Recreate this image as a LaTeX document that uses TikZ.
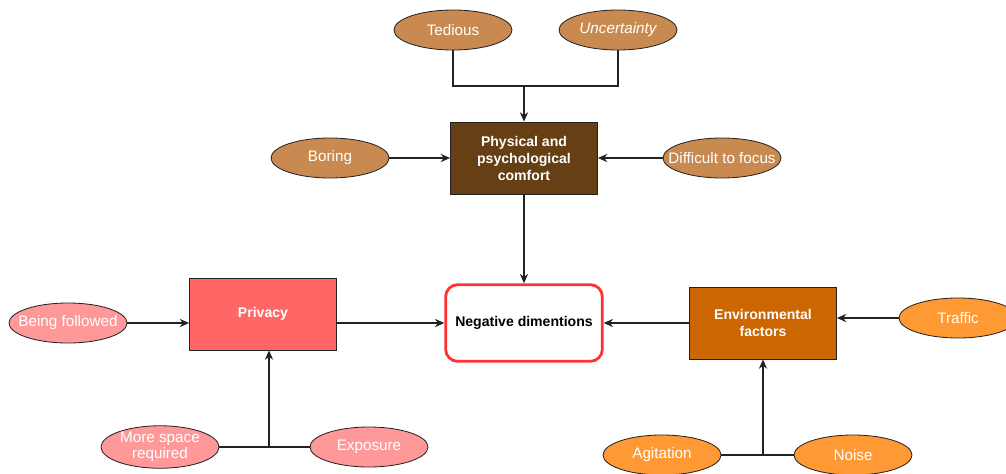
\documentclass[tikz,border=0pt]{standalone}
\usepackage{fontspec}
\setmainfont{Liberation Sans}
\usepackage{tikz}
\usetikzlibrary{shapes.geometric,arrows.meta}
\definecolor{ink}{HTML}{222222}
\definecolor{dbrown}{HTML}{663F14}
\definecolor{lbrown}{HTML}{C88A50}
\definecolor{rosy}{HTML}{FF6666}
\definecolor{pink}{HTML}{FF9999}
\definecolor{rust}{HTML}{CC6600}
\definecolor{amber}{HTML}{FF9933}
\definecolor{alert}{HTML}{FF3333}
\tikzset{
  oval/.style={ellipse, draw=ink, line width=0.7pt, minimum width=3.54cm, minimum height=1.2cm,
    inner sep=0pt, text=white, font=\fontsize{13}{15}\selectfont, align=center},
  boxa/.style={rectangle, draw=ink, line width=0.7pt, minimum width=4.41cm, minimum height=2.16cm,
    text=white, font=\bfseries\fontsize{12}{14.5}\selectfont, align=center},
  core/.style={rectangle, rounded corners=0.36cm, draw=alert, line width=2.4pt, fill=white,
    minimum width=4.7cm, minimum height=2.3cm, font=\bfseries\fontsize{12}{14.5}\selectfont},
  link/.style={draw=ink, line width=0.9pt},
  arr/.style={link, -{Stealth[length=8pt,width=7pt]}},
}
\begin{document}
\begin{tikzpicture}[x=0.03cm,y=-0.03cm]
  \useasboundingbox (0,0) rectangle (1006,473);
  \clip (0,0) rectangle (1006,473);
  % centre
  \node[core] (neg) at (524,323) {Negative dimentions};
  % physical and psychological comfort
  \node[boxa, fill=dbrown] (phys) at (524,158) {Physical and\\psychological\\comfort};
  \node[oval, fill=lbrown] (ted) at (453,30) {Tedious};
  \node[oval, fill=lbrown] (unc) at (618,30) {\itshape Uncertainty};
  \node[oval, fill=lbrown] (bor) at (330,158) {Boring};
  \node[oval, fill=lbrown, inner xsep=-0.5cm] (dif) at (722,158) {Difficult to focus};
  \coordinate (j1) at (524,86);
  \draw[link] (ted.south) |- (j1) -| (unc.south);
  \draw[arr] (j1) -- (phys.north);
  \draw[arr] (bor) -- (phys);
  \draw[arr] (dif) -- (phys);
  \draw[arr] (phys) -- (neg);
  % privacy
  \node[boxa, fill=rosy] (priv) at (263,314) {Privacy};
  \node[oval, fill=pink, inner xsep=-0.3cm] (fol) at (68,323) {Being followed};
  \node[oval, fill=pink, inner xsep=-0.1cm, font=\fontsize{13}{14}\selectfont] (more) at (160,447) {More space\\required};
  \node[oval, fill=pink] (expo) at (369,447) {Exposure};
  \coordinate (j2) at (269,447);
  \draw[arr] (fol.east) -- (fol -| priv.west);
  \draw[arr] (priv.east |- neg.west) -- (neg.west);
  \draw[link] (more.east) -- (expo.west);
  \draw[arr] (j2) -- (j2 |- priv.south);
  % environmental factors
  \node[boxa, fill=rust] (env) at (763,323) {Environmental\\factors};
  \node[oval, fill=amber] (traf) at (958,318) {Traffic};
  \node[oval, fill=amber] (agi) at (662,455) {Agitation};
  \node[oval, fill=amber] (noi) at (853,455) {Noise};
  \coordinate (j3) at (763,455);
  \draw[arr] (env.west) -- (neg.east);
  \draw[arr] (traf.west) -- (traf -| env.east);
  \draw[link] (agi.east) -- (noi.west);
  \draw[arr] (j3) -- (env.south);
\end{tikzpicture}
\end{document}
